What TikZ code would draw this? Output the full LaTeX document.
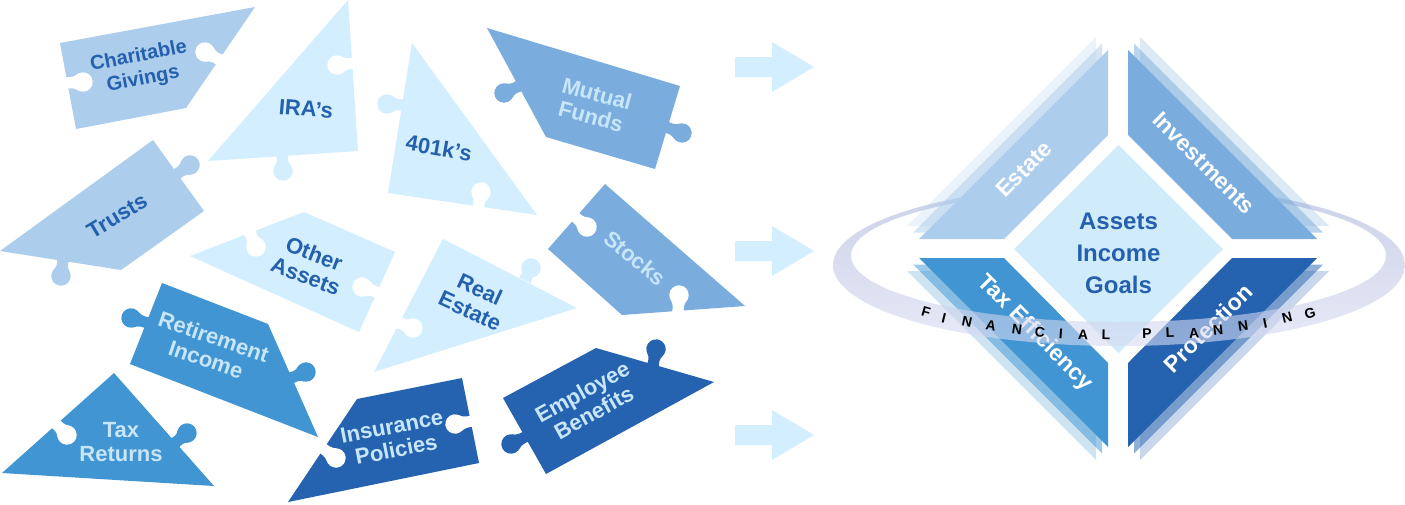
\documentclass[tikz,border=0pt]{standalone}
\usepackage{fontspec}
\setmainfont{Liberation Sans}
\usetikzlibrary{calc}
\definecolor{cPale}{HTML}{D3EFFF}
\definecolor{cCentre}{HTML}{D0EBFA}
\definecolor{cEstate}{HTML}{ACCDEC}
\definecolor{cInvest}{HTML}{7AADDE}
\definecolor{cTax}{HTML}{4095D2}
\definecolor{cProt}{HTML}{2563B0}
\definecolor{cText}{HTML}{2560AE}
\definecolor{cLight}{HTML}{C8E6FA}
\definecolor{cRingTop}{HTML}{A8B2D8}
\definecolor{cRingBot}{HTML}{D8DCF2}
\tikzset{
  lab/.style={font=\fontsize{22}{23.5}\selectfont\bfseries, align=center, inner sep=0pt},
  labs/.style={font=\fontsize{20}{23.5}\selectfont\bfseries, align=center, inner sep=0pt},
  big/.style={font=\fontsize{23}{23}\selectfont\bfseries, align=center, inner sep=0pt, text=white},
  ctr/.style={font=\fontsize{24}{32}\selectfont\bfseries, align=center, inner sep=0pt, text=cText},
  ring/.style={font=\fontsize{14}{14}\selectfont\bfseries, text=black, inner sep=0pt},
  back/.style={fill opacity=.5},
  backb/.style={fill opacity=.25}
}
% puzzle tab or notch: colour, base x,y, bulb centre x,y
\newcommand\knob[5]{%
  \pgfmathsetmacro\kang{atan2(-(#5-#3),#4-#2)}%
  \pgfmathsetmacro\klen{veclen(#5-#3,#4-#2)}%
  \begin{scope}[shift={(#2,#3)},rotate=\kang]
    \fill[#1] (-2.5,-6.5) -- (0,-6) .. controls (3,-5.2) and (\klen-9,-5) .. (\klen-5,-8.2)
      -- (\klen-5,8.2) .. controls (\klen-9,5) and (3,5.2) .. (0,6) -- (-2.5,6.5) -- cycle;
    \fill[#1] (\klen,0) circle (9.7);
  \end{scope}}
\begin{document}
\begin{tikzpicture}[x=1pt,y=-1pt]
\useasboundingbox (0,0) rectangle (1405,504);
\fill[white] (0,0) rectangle (1405,504);

% puzzle pieces
\fill[cEstate] (60,43) -- (255,7) -- (186,108) -- (76,129) -- cycle;
\knob{white}{65}{83}{83}{82}
\knob{white}{220}{60}{205}{52}
\node[labs,text=cText,rotate=11] (charitable) at (141,68) {Charitable\\Givings};

\fill[cPale] (348,0) -- (358,151) -- (208,161) -- cycle;
\knob{white}{354}{63}{337}{65}
\knob{cPale}{282}{155}{283}{171}
\node[lab,text=cText,rotate=-5] (ira) at (306,109) {IRA’s};

\fill[cEstate] (153,140) -- (204,211) -- (121,270) -- (0,251) -- cycle;
\knob{cEstate}{177}{174}{190}{165}
\knob{cEstate}{63}{260}{61}{276}
\node[lab,text=cText,rotate=31] (trusts) at (117,216) {Trusts};

\fill[cPale] (412,43) -- (537,215) -- (388,193) -- cycle;
\knob{cPale}{403}{105}{387}{104}
\knob{white}{478}{209}{481}{192}
\node[lab,text=cText,rotate=-10] (k401) at (439,148) {401k’s};

\fill[cInvest] (487,28) -- (680,86) -- (655,169) -- (546,137) -- cycle;
\knob{cInvest}{519}{86}{504}{93}
\knob{cInvest}{666}{127}{682}{133}
\node[lab,text=cLight,rotate=-15] (mutual) at (594,105) {Mutual\\Funds};

\fill[cInvest] (605,184) -- (745,306) -- (622,315) -- (548,249) -- cycle;
\knob{white}{574}{216}{587}{227}
\knob{white}{678}{312}{679}{295}
\node[lab,text=cLight,rotate=-39] (stocks) at (635,258) {Stocks};

\fill[cPale] (190,256) -- (304,212) -- (395,252) -- (359,332) -- cycle;
\knob{white}{250}{233}{256}{247}
\knob{white}{379}{293}{362}{287}
\node[lab,text=cText,rotate=-21] (other) at (310,265) {Other\\Assets};

\fill[cPale] (443,239) -- (577,308) -- (374,372) -- cycle;
\knob{cPale}{526}{278}{531}{268}
\knob{white}{399}{323}{413}{328}
\node[lab,text=cText,rotate=-25] (real) at (475,300) {Real\\Estate};

\fill[cTax] (162,283) -- (268,324) -- (318,437) -- (130,364) -- cycle;
\knob{cTax}{148}{323}{131}{318}
\knob{cTax}{291}{378}{306}{372}
\node[lab,text=cLight,rotate=-19] (retire) at (210,348) {Retirement\\Income};

\fill[cTax] (114,373) -- (214,486) -- (2,473) -- cycle;
\knob{white}{55}{423}{67}{435}
\knob{cTax}{175}{443}{187}{433}
\node[lab,text=cLight] (taxret) at (121,442) {Tax\\Returns};

\fill[cProt] (462,378) -- (479,463) -- (288,502) -- (357,399) -- cycle;
\knob{white}{473}{421}{455}{424}
\knob{white}{321}{447}{336}{458}
\node[lab,text=cLight,rotate=11] (insur) at (394,438) {Insurance\\Policies};

\fill[cProt] (596,348) -- (714,382) -- (546,474) -- (503,398) -- cycle;
\knob{cProt}{653}{365}{656}{349}
\knob{cProt}{527}{436}{511}{444}
\node[lab,text=cLight,rotate=29] (employee) at (588,402) {Employee\\Benefits};

% arrows
\foreach \ay in {67,251,435}
  \fill[cPale] (735,\ay-10) -- (772,\ay-10) -- (772,\ay-25) -- (814,\ay) -- (772,\ay+25) -- (772,\ay+10) -- (735,\ay+10) -- cycle;

% lower pieces
\fill[cTax,backb] (907,271) -- (992,271) -- (1096,376) -- (1096,460) -- cycle;
\fill[cTax,back] (913,264.5) -- (998,264.5) -- (1102,369.5) -- (1102,453.5) -- cycle;
\fill[cTax] (919,258) -- (1004,258) -- (1108,363) -- (1108,447) -- cycle;
\fill[cProt,backb] (1329,271) -- (1244,271) -- (1140,376) -- (1140,460) -- cycle;
\fill[cProt,back] (1323,264.5) -- (1238,264.5) -- (1134,369.5) -- (1134,453.5) -- cycle;
\fill[cProt] (1317,258) -- (1232,258) -- (1128,363) -- (1128,447) -- cycle;
\node[big,rotate=-45] (taxeff) at (1035,333) {Tax Efficiency};
\node[big,rotate=45] (prot) at (1208,328) {Protection};

% centre
\fill[cCentre] (1118.5,145) -- (1223,249) -- (1118.5,353) -- (1014,249) -- cycle;
\node[ctr] (assets) at (1118.5,221) {Assets};
\node[ctr] (income) at (1118.5,253) {Income};
\node[ctr] (goals) at (1118.5,285) {Goals};

% ring
\begin{scope}
  \clip (820,150) -- (1008,150) -- (919,239) -- (919,250) -- (1317,250) -- (1317,239) -- (1228,150) -- (1420,150) -- (1420,510) -- (820,510) -- cycle;
  \path[even odd rule, top color=cRingTop, bottom color=cRingBot, fill opacity=.6]
    (1119,265) ellipse [x radius=286, y radius=81]
    (1118.5,255.6) ellipse [x radius=267.5, y radius=66.4];
\end{scope}

% upper pieces
\fill[cEstate,backb] (1096,37) -- (1096,122) -- (992,226) -- (907,226) -- cycle;
\fill[cEstate,back] (1102,43.5) -- (1102,128.5) -- (998,232.5) -- (913,232.5) -- cycle;
\fill[cEstate] (1108,50) -- (1108,135) -- (1004,239) -- (919,239) -- cycle;
\fill[cInvest,backb] (1140,37) -- (1140,122) -- (1244,226) -- (1329,226) -- cycle;
\fill[cInvest,back] (1134,43.5) -- (1134,128.5) -- (1238,232.5) -- (1323,232.5) -- cycle;
\fill[cInvest] (1128,50) -- (1128,135) -- (1232,239) -- (1317,239) -- cycle;
\node[big,rotate=45] (estate) at (1024,169) {Estate};
\node[big,rotate=-45] (invest) at (1204,163) {Investments};

% ring lettering
\foreach \ch/\lx/\ly/\lr [count=\li] in {F/926/312/-16,I/944/318/-14,N/967/322/-12,A/991/326/-10,N/1017/329/-8,C/1040/332/-6,I/1061/334/-4,A/1083/335/-2,L/1106/335/-1,P/1147/334/1,L/1170/333/2,A/1194/333/4,N/1218/330/7,N/1243/326/9,I/1265/323/11,N/1287/318/14,G/1310/313/16}
  \node[ring,rotate=\lr] (ch\li) at (\lx,\ly) {\ch};
\end{tikzpicture}
\end{document}
